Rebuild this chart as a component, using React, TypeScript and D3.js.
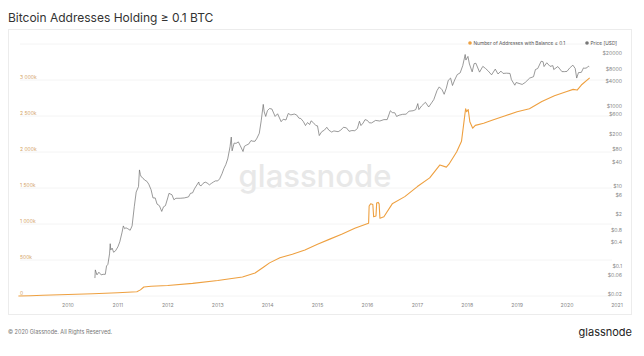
import React from "react";
import * as d3 from "d3";

const title = "Bitcoin Addresses Holding ≥ 0.1 BTC";
const legendAddresses = "Number of Addresses with Balance ≥ 0.1";
const legendPrice = "Price [USD]";
const footerText = "© 2020 Glassnode. All Rights Reserved.";
const brand = "glassnode";

const yearTicks = [2010, 2011, 2012, 2013, 2014, 2015, 2016, 2017, 2018, 2019, 2020, 2021];
const leftTicks = [0, 500, 1000, 1500, 2000, 2500, 3000, 3500];
const leftTickLabels = ["0", "500k", "1 000k", "1 500k", "2 000k", "2 500k", "3 000k", ""];
const priceTicks = [20000, 8000, 4000, 1000, 600, 200, 80, 40, 10, 6, 2, 0.8, 0.4, 0.1, 0.06, 0.02];
const priceTickLabels = ["$20000", "$8000", "$4000", "$1000", "$600", "$200", "$80", "$40", "$10", "$6", "$2", "$0.8", "$0.4", "$0.1", "$0.06", "$0.02"];

// Number of addresses holding >= 0.1 BTC (thousands)
const addressData: [string, number][] = [
  ["2009-01-03", 0], ["2009-04-01", 4], ["2009-07-01", 10], ["2010-01-01", 20],
  ["2010-07-01", 32], ["2011-01-01", 45], ["2011-05-20", 60], ["2011-06-15", 85],
  ["2011-07-10", 125], ["2011-09-01", 135], ["2012-01-01", 145], ["2012-07-01", 175],
  ["2013-01-01", 215], ["2013-04-01", 240], ["2013-07-01", 265], ["2013-10-01", 320],
  ["2013-12-01", 400], ["2014-01-15", 460], ["2014-04-01", 530], ["2014-07-01", 580],
  ["2014-10-01", 640], ["2015-01-01", 720], ["2015-04-01", 790], ["2015-07-01", 860],
  ["2015-10-01", 940], ["2015-12-25", 1000], ["2016-01-10", 1010], ["2016-01-14", 1250],
  ["2016-01-25", 1280], ["2016-02-10", 1270], ["2016-02-16", 1100], ["2016-03-04", 1110],
  ["2016-03-09", 1290], ["2016-03-20", 1300], ["2016-03-27", 1280], ["2016-04-02", 1080],
  ["2016-05-01", 1100], ["2016-07-01", 1280], ["2016-10-01", 1380], ["2017-01-01", 1520],
  ["2017-04-01", 1640], ["2017-06-15", 1820], ["2017-08-01", 1790], ["2017-08-20", 1830],
  ["2017-10-15", 2000], ["2017-11-20", 2150], ["2017-12-10", 2450], ["2017-12-20", 2600],
  ["2017-12-28", 2560], ["2018-01-08", 2590], ["2018-01-20", 2420], ["2018-02-10", 2330],
  ["2018-03-01", 2370], ["2018-05-01", 2400], ["2018-07-01", 2440], ["2018-10-01", 2500],
  ["2019-01-01", 2560], ["2019-04-01", 2600], ["2019-07-01", 2700], ["2019-10-01", 2780],
  ["2019-12-31", 2840], ["2020-02-15", 2870], ["2020-03-15", 2860], ["2020-04-15", 2930],
  ["2020-06-15", 3030],
];

// BTC price in USD
const priceData: [string, number][] = [
  ["2010-07-17", 0.05], ["2010-07-20", 0.08], ["2010-08-01", 0.06], ["2010-08-15", 0.07],
  ["2010-09-01", 0.06], ["2010-09-15", 0.062], ["2010-10-01", 0.062], ["2010-10-10", 0.1],
  ["2010-10-20", 0.11], ["2010-11-01", 0.2], ["2010-11-06", 0.36], ["2010-11-10", 0.25],
  ["2010-11-20", 0.28], ["2010-12-01", 0.22], ["2010-12-15", 0.24], ["2011-01-01", 0.3],
  ["2011-01-15", 0.4], ["2011-02-01", 0.7], ["2011-02-10", 1.0], ["2011-02-20", 0.85],
  ["2011-03-01", 0.9], ["2011-03-15", 0.85], ["2011-04-01", 0.78], ["2011-04-15", 1.0],
  ["2011-05-01", 3.0], ["2011-05-15", 7.0], ["2011-06-01", 9.6], ["2011-06-08", 25],
  ["2011-06-15", 19], ["2011-06-20", 17], ["2011-07-01", 16], ["2011-07-15", 14],
  ["2011-08-01", 13], ["2011-08-15", 11], ["2011-09-01", 8], ["2011-09-15", 5],
  ["2011-10-01", 5], ["2011-10-15", 3.5], ["2011-11-01", 3.2], ["2011-11-18", 2.3],
  ["2011-12-01", 3], ["2011-12-15", 3.2], ["2012-01-01", 5], ["2012-01-10", 6.5],
  ["2012-02-01", 6], ["2012-02-15", 4.5], ["2012-03-01", 4.9], ["2012-04-01", 4.9],
  ["2012-05-01", 5], ["2012-06-01", 5.3], ["2012-06-15", 6.5], ["2012-07-01", 6.7],
  ["2012-07-15", 8.5], ["2012-08-15", 12.5], ["2012-08-20", 10.5], ["2012-09-01", 10],
  ["2012-09-15", 11.5], ["2012-10-01", 12.4], ["2012-10-15", 11.8], ["2012-11-01", 10.6],
  ["2012-11-15", 11.5], ["2012-12-01", 12.5], ["2012-12-15", 13.3], ["2013-01-01", 13.3],
  ["2013-01-15", 15], ["2013-02-01", 20], ["2013-02-15", 27], ["2013-03-01", 34],
  ["2013-03-15", 47], ["2013-04-01", 95], ["2013-04-10", 165], ["2013-04-16", 75],
  ["2013-05-01", 117], ["2013-05-15", 115], ["2013-06-01", 125], ["2013-06-15", 100],
  ["2013-07-05", 72], ["2013-07-15", 97], ["2013-08-01", 105], ["2013-08-15", 110],
  ["2013-09-01", 135], ["2013-09-15", 130], ["2013-10-01", 130], ["2013-10-15", 155],
  ["2013-11-01", 205], ["2013-11-15", 420], ["2013-11-30", 1080], ["2013-12-07", 700],
  ["2013-12-18", 540], ["2013-12-31", 760], ["2014-01-15", 850], ["2014-02-01", 830],
  ["2014-02-25", 540], ["2014-03-15", 630], ["2014-04-10", 400], ["2014-04-25", 460],
  ["2014-05-15", 440], ["2014-06-01", 640], ["2014-06-20", 590], ["2014-07-15", 620],
  ["2014-08-01", 590], ["2014-08-18", 490], ["2014-09-01", 480], ["2014-09-20", 400],
  ["2014-10-05", 320], ["2014-10-20", 380], ["2014-11-05", 340], ["2014-11-15", 420],
  ["2014-12-01", 380], ["2014-12-20", 320], ["2015-01-01", 315], ["2015-01-14", 180],
  ["2015-02-01", 225], ["2015-02-20", 245], ["2015-03-10", 290], ["2015-03-25", 245],
  ["2015-04-15", 220], ["2015-05-01", 235], ["2015-06-01", 225], ["2015-06-20", 245],
  ["2015-07-10", 290], ["2015-08-01", 280], ["2015-08-20", 230], ["2015-09-10", 240],
  ["2015-10-01", 238], ["2015-10-20", 270], ["2015-11-04", 410], ["2015-11-15", 320],
  ["2015-12-01", 370], ["2015-12-15", 450], ["2016-01-01", 430], ["2016-01-15", 375],
  ["2016-02-01", 372], ["2016-03-01", 430], ["2016-04-01", 415], ["2016-05-01", 450],
  ["2016-05-25", 450], ["2016-06-17", 750], ["2016-07-01", 675], ["2016-07-20", 665],
  ["2016-08-02", 540], ["2016-08-20", 580], ["2016-09-15", 610], ["2016-10-10", 615],
  ["2016-11-01", 730], ["2016-12-01", 750], ["2016-12-20", 800], ["2017-01-04", 1130],
  ["2017-01-12", 800], ["2017-02-01", 990], ["2017-03-01", 1220], ["2017-03-25", 930],
  ["2017-04-15", 1180], ["2017-05-01", 1420], ["2017-05-25", 2400], ["2017-06-10", 2950],
  ["2017-07-01", 2500], ["2017-07-16", 1930], ["2017-08-01", 2750], ["2017-08-15", 4300],
  ["2017-09-01", 4900], ["2017-09-15", 3200], ["2017-10-01", 4400], ["2017-10-20", 6000],
  ["2017-11-10", 6600], ["2017-11-29", 10000], ["2017-12-17", 19000], ["2017-12-22", 13800],
  ["2018-01-06", 17000], ["2018-01-17", 11000], ["2018-02-06", 7000], ["2018-02-20", 11200],
  ["2018-03-05", 11500], ["2018-04-01", 6900], ["2018-04-25", 9600], ["2018-05-15", 8500],
  ["2018-06-01", 7500], ["2018-06-28", 5900], ["2018-07-25", 8200], ["2018-08-14", 6200],
  ["2018-09-05", 7300], ["2018-09-20", 6400], ["2018-10-15", 6500], ["2018-11-10", 6400],
  ["2018-11-20", 4500], ["2018-12-15", 3250], ["2018-12-25", 3800], ["2019-01-15", 3600],
  ["2019-02-07", 3400], ["2019-03-01", 3800], ["2019-04-03", 4900], ["2019-05-01", 5300],
  ["2019-05-15", 8000], ["2019-06-01", 8500], ["2019-06-26", 12900], ["2019-07-10", 12500],
  ["2019-07-17", 9500], ["2019-08-06", 11800], ["2019-08-30", 9600], ["2019-09-20", 10000],
  ["2019-09-26", 8000], ["2019-10-26", 9500], ["2019-11-25", 7100], ["2019-12-15", 7100],
  ["2020-01-01", 7200], ["2020-01-20", 8700], ["2020-02-13", 10300], ["2020-03-01", 8500],
  ["2020-03-12", 4900], ["2020-03-25", 6700], ["2020-04-15", 6800], ["2020-05-01", 8800],
  ["2020-05-10", 8600], ["2020-05-25", 8800], ["2020-06-05", 9700], ["2020-06-12", 9400],
];

const parse = d3.timeParse("%Y-%m-%d");
const FONT = "Inter, 'Noto Sans', sans-serif";

export default function App() {
  const W = 644, H = 356;
  const x = d3.scaleTime()
    .domain([new Date(2010, 0, 1), new Date(2021, 0, 1)])
    .range([68, 617]);
  const yL = d3.scaleLinear().domain([0, 3500]).range([296, 44]);
  const yR = d3.scaleLog().domain([0.02, 20000]).range([294, 53.6]);

  const addrLine = d3.line<[string, number]>()
    .x((d) => x(parse(d[0]) as Date))
    .y((d) => yL(d[1]));
  const priceLine = d3.line<[string, number]>()
    .x((d) => x(parse(d[0]) as Date))
    .y((d) => yR(d[1]));

  return (
    <svg width={W} height={H} style={{ position: "absolute", left: 0, top: 0, background: "#fff" }}
      fontFamily={FONT}>
      <rect x={0} y={0} width={W} height={H} fill="#fff" />
      <text x={8} y={21.5} fontSize={12} fill="#333">{title}</text>
      <rect x={8.5} y={29.5} width={623} height={285} fill="#fff" stroke="#ececec" />
      {leftTicks.map((t) => (
        <line key={"g" + t} x1={20} x2={612} y1={yL(t)} y2={yL(t)} stroke="#f1f1f1" strokeWidth={0.8} />
      ))}
      <text x={315} y={187} fontSize={31} fontWeight={500} fill="#e8e8e8" textAnchor="middle">{brand}</text>
      {leftTicks.map((t, i) => (
        <text key={"l" + t} x={20} y={yL(t) - 1.5} fontSize={5} fill="#d4a467">{leftTickLabels[i]}</text>
      ))}
      {priceTicks.map((t, i) => (
        <text key={"r" + t} x={622} y={yR(t)} dy="0.35em" fontSize={5.2} fill="#888" textAnchor="end">{priceTickLabels[i]}</text>
      ))}
      {yearTicks.map((yr) => (
        <text key={"x" + yr} x={x(new Date(yr, 0, 1))} y={305} dy="0.35em" fontSize={5.2} fill="#888" textAnchor="middle">{yr}</text>
      ))}
      <path d={priceLine(priceData) || ""} fill="none" stroke="#6f6f6f" strokeWidth={0.7} />
      <path d={addrLine(addressData) || ""} fill="none" stroke="#eea040" strokeWidth={1.1} strokeLinejoin="round" />
      <circle cx={470} cy={43} r={1.8} fill="#eea040" />
      <text x={473.5} y={43} dy="0.35em" fontSize={4.8} fill="#555">{legendAddresses}</text>
      <circle cx={587} cy={43} r={1.8} fill="#777" />
      <text x={590.5} y={43} dy="0.35em" fontSize={4.8} fill="#555">{legendPrice}</text>
      <text x={8} y={332} dy="0.35em" fontSize={5.5} fill="#777">{footerText}</text>
      <text x={632} y={332} dy="0.35em" fontSize={11} fill="#222" textAnchor="end">{brand}</text>
    </svg>
  );
}
